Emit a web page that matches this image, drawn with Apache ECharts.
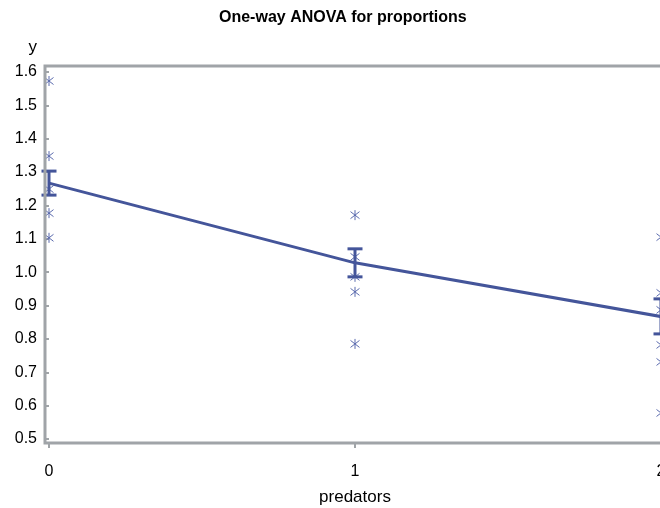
<!DOCTYPE html>
<html>
<head>
<meta charset="utf-8">
<script src="https://cdn.jsdelivr.net/npm/echarts@6/dist/echarts.min.js"></script>
<style>html,body{margin:0;padding:0;background:#fff;}#c{width:660px;height:508px;}</style>
</head>
<body>
<div id="c"></div>
<script>
// ---- data ----
const xTicks = [0, 1, 2];
const yTicks = [0.5, 0.6, 0.7, 0.8, 0.9, 1.0, 1.1, 1.2, 1.3, 1.4, 1.5, 1.6];
const groupX = [0, 1, 2];
const obs0 = [1.573, 1.348, 1.249, 1.177, 1.103];
const obs1 = [1.171, 1.046, 0.986, 0.941, 0.785];
const obs2 = [1.105, 0.938, 0.887, 0.782, 0.731, 0.578];
const means = [1.267, 1.028, 0.867];
const lower = [1.231, 0.986, 0.815];
const upper = [1.303, 1.070, 0.920];

const LINE = '#44559A';
const MARK = '#5B6BAE';
const FRAME = '#A0A4A8';
const FONT = "'Liberation Sans', Arial, sans-serif";

const obsData = [];
[obs0, obs1, obs2].forEach((g, i) => g.forEach(v => obsData.push([groupX[i], v])));
const meanData = groupX.map((x, i) => [x, means[i]]);
const barData = groupX.map((x, i) => [x, lower[i], upper[i]]);

const chart = echarts.init(document.getElementById('c'));
chart.setOption({
  animation: false,
  backgroundColor: '#fff',
  title: {
    text: 'One-way ANOVA for proportions',
    left: 214, top: 5,
    textStyle: { fontFamily: FONT, fontSize: 16, fontWeight: 'bold', color: '#000' }
  },
  grid: { left: 49, top: 72, width: 612, height: 367, containLabel: false, outerBoundsMode: 'none' },
  xAxis: {
    type: 'value', min: xTicks[0], max: xTicks[xTicks.length - 1], interval: 1,
    offset: 4,
    name: 'predators', nameLocation: 'middle', nameGap: 46,
    nameTextStyle: { fontFamily: FONT, fontSize: 17, color: '#000' },
    axisLine: { show: false },
    axisTick: { show: true, length: 5, lineStyle: { color: FRAME, width: 2 } },
    axisLabel: { margin: 21, fontFamily: FONT, fontSize: 16, color: '#000', formatter: v => String(v) },
    splitLine: { show: false }
  },
  yAxis: {
    type: 'value', min: yTicks[0], max: yTicks[yTicks.length - 1], interval: 0.1,
    offset: 4,
    name: 'y', nameLocation: 'end', nameGap: 16,
    nameTextStyle: { fontFamily: FONT, fontSize: 17, color: '#000', align: 'right', padding: [0, 12, 0, 0] },
    axisLine: { show: false },
    axisTick: { show: true, length: 4, lineStyle: { color: FRAME, width: 2 } },
    axisLabel: { margin: 8, fontFamily: FONT, fontSize: 16, color: '#000', formatter: v => v.toFixed(1) },
    splitLine: { show: false }
  },
  graphic: [{
    type: 'rect', z: 100, silent: true,
    shape: { x: 45, y: 66, width: 620, height: 377 },
    style: { fill: 'none', stroke: FRAME, lineWidth: 3 }
  }],
  series: [
    {
      type: 'custom', clip: false, z: 3,
      data: obsData,
      renderItem: (params, api) => {
        const p = api.coord([api.value(0), api.value(1)]);
        const s = { stroke: MARK, lineWidth: 1 };
        return { type: 'group', children: [
          { type: 'line', shape: { x1: p[0], y1: p[1] - 5, x2: p[0], y2: p[1] + 5 }, style: s },
          { type: 'line', shape: { x1: p[0] - 4.5, y1: p[1] - 3.5, x2: p[0] + 4.5, y2: p[1] + 3.5 }, style: s },
          { type: 'line', shape: { x1: p[0] - 4.5, y1: p[1] + 3.5, x2: p[0] + 4.5, y2: p[1] - 3.5 }, style: s }
        ]};
      }
    },
    {
      type: 'line', data: meanData, symbol: 'none', z: 4,
      lineStyle: { color: LINE, width: 3 }
    },
    {
      type: 'custom', clip: false, z: 5,
      data: barData,
      renderItem: (params, api) => {
        const lo = api.coord([api.value(0), api.value(1)]);
        const hi = api.coord([api.value(0), api.value(2)]);
        const w = 7.5;
        const s = { stroke: LINE, lineWidth: 3 };
        return { type: 'group', children: [
          { type: 'line', shape: { x1: lo[0], y1: lo[1], x2: hi[0], y2: hi[1] }, style: s },
          { type: 'line', shape: { x1: lo[0] - w, y1: lo[1], x2: lo[0] + w, y2: lo[1] }, style: s },
          { type: 'line', shape: { x1: hi[0] - w, y1: hi[1], x2: hi[0] + w, y2: hi[1] }, style: s }
        ]};
      }
    }
  ]
});
</script>
</body>
</html>
